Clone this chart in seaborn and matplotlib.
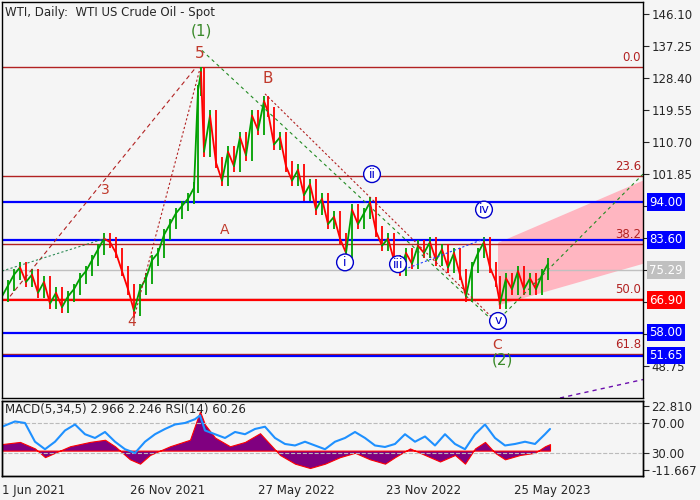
import matplotlib
matplotlib.use("Agg")
import matplotlib.pyplot as plt
import seaborn as sns
import numpy as np
import pandas as pd

sns.set_style("white")
plt.rcParams['font.family'] = ['DejaVu Sans']

# ---- data ----
price_x = [2,8,14,20,26,32,38,44,50,56,62,68,74,80,86,92,98,104,110,116,122,128,134,140,146,152,158,164,170,176,182,188,194,198,201,204,210,216,222,228,234,240,246,252,258,264,268,274,280,286,292,298,304,310,316,322,328,334,340,346,352,358,364,370,376,382,388,394,400,406,412,418,424,430,436,442,448,454,460,466,472,478,484,490,496,500,506,512,518,524,530,536,542,548]
price_c = [68,71,74,76,72,74,69,72,66,69,65,68,70,73,75,78,81,84,83,80,75,70,64,70,73,78,80,85,88,91,93,95,98,125,130,108,118,105,100,108,104,112,107,118,114,122,119,110,112,104,100,103,96,99,92,95,88,90,84,80,92,88,91,94,86,82,84,78,75,80,77,82,80,83,78,81,76,80,74,68,76,80,83,76,72,66,73,70,75,70,73,70,74,77]

rsi_x = [2,15,25,35,45,55,65,75,85,95,105,115,125,135,145,155,165,175,185,195,200,205,215,225,235,245,255,265,275,285,295,305,315,325,335,345,355,365,375,385,395,405,415,425,435,445,455,465,475,485,495,505,515,525,535,545,550]
rsi_v = [65,72,70,45,35,45,60,68,55,50,58,45,35,30,45,55,62,68,70,75,80,60,55,50,58,55,62,65,50,42,40,45,40,35,45,50,58,50,40,38,42,55,45,52,40,55,42,35,55,68,50,40,42,45,42,55,62]

macd_x = [2,20,35,45,55,70,90,105,115,130,140,150,170,190,200,205,215,230,245,260,270,280,295,310,325,340,355,370,385,395,410,425,440,455,465,475,485,495,505,520,535,545,550]
macd_v = [3,4,1,-3,-1,2,4,5,2,-4,-6,-2,2,5,18,12,6,2,4,8,3,-2,-6,-8,-6,-3,-1,-4,-6,-3,1,-2,-5,-2,-6,1,4,-1,-4,-2,-1,2,3]

date_ticks = [2,130,258,386,514]
date_labels = ["1 Jun 2021","26 Nov 2021","27 May 2022","23 Nov 2022","25 May 2023"]
price_ticks = [146.10,137.25,128.40,119.55,110.70,101.85,93.00,84.15,75.30,66.45,57.60,48.75]
hidden_ticks = {93.00,84.15,75.30,66.45,57.60}

bg = "#f5f5f5"
fig = plt.figure(figsize=(7,5), dpi=100, facecolor=bg)
ax = fig.add_axes([2/700, 102/500, 641/700, 396/500], facecolor=bg)
ax2 = fig.add_axes([2/700, 24/500, 641/700, 75/500], facecolor=bg)

ax.set_xlim(2, 643)
ax.set_ylim(39.9, 149.4)

# pink channel
ax.fill([498,643,643,498],[82.8,100,77,65.5], color="#ffb6c1", lw=0, zorder=0)

# horizontal levels
fib = [(131.5,"0.0"),(101.3,"23.6"),(82.5,"38.2"),(67.3,"50.0"),(52.1,"61.8")]
for v, t in fib:
    ax.axhline(v, color="#b22222", lw=1)
    ax.text(641, v+0.8, t, color="#b22222", ha="right", va="bottom", fontsize=8.5)
for v in [94.00, 83.60, 58.00, 51.65]:
    ax.axhline(v, color="#0000ff", lw=1.6)
ax.axhline(66.90, color="#ff0000", lw=1.6)
ax.axhline(75.29, color="#c0c0c0", lw=1)

# price bars
for i in range(1, len(price_x)):
    a, b = price_c[i-1], price_c[i]
    col = "#00a000" if b >= a else "#ff0000"
    ax.plot([price_x[i-1], price_x[i]], [a, b], color=col, lw=1.3)
    ax.vlines(price_x[i], min(a, b)-1.5, max(a, b)+1.5, color=col, lw=1.3)

# wave lines
ax.plot([10,195],[68,131], color="#b22222", ls=(0,(4,3)), lw=0.8)
ax.plot([134,200],[62,131], color="#b22222", ls=(0,(2,2)), lw=0.8)
ax.plot([2,105],[75,84], color="#2e8b57", ls=(0,(2,2)), lw=0.8)
ax.plot([202,490],[136,62], color="#228b22", ls=(0,(3,3)), lw=0.8)
ax.plot([265,500],[124,60], color="#b22222", ls=(0,(2,2)), lw=0.8)
ax.plot([500,643],[62,101.8], color="#228b22", ls=(0,(3,3)), lw=0.8)
ax.plot([400,485],[75,84], color="#1e40ff", ls=(0,(2,2)), lw=0.8)
ax.plot([560,643],[39.9,45], color="#6a0dad", ls=(0,(3,3)), lw=1)

# wave labels
lab = [(201,141.5,"(1)","#3a8a2a",11),(200,135.1,"5","#c0392b",11),(268,128.2,"B","#c0392b",11),
       (225,86.4,"A","#c0392b",10),(105,97.5,"3","#c0392b",10),(132,61,"4","#c0392b",10),
       (497,54.5,"C","#c0392b",10),(502,50.5,"(2)","#3a8a2a",11)]
for x, y, t, c, s in lab:
    ax.text(x, y, t, color=c, ha="center", va="center", fontsize=s)
circ = [(345,77.4,"i"),(372,101.8,"ii"),(398,76.9,"iii"),(484,92,"iv"),(498,61.2,"v")]
for x, y, t in circ:
    ax.text(x, y, t, color="#0000cc", ha="center", va="center", fontsize=9,
            bbox=dict(boxstyle="circle,pad=0.15", fc="white", ec="#0000cc", lw=1))

ax.text(5, 146.5, "WTI, Daily:  WTI US Crude Oil - Spot", fontsize=8.5, va="center")

ax.yaxis.tick_right()
ax.set_yticks(price_ticks)
ax.set_yticklabels(["" if v in hidden_ticks else f"{v:.2f}" for v in price_ticks], fontsize=8.5)
ax.set_xticks([])
ax.tick_params(axis="y", length=4, pad=2)
for s in ax.spines.values():
    s.set_color("black"); s.set_linewidth(1)

# boxed price labels
boxes = [(94.00,"#0000ff","white"),(83.60,"#0000ff","white"),(75.29,"#c0c0c0","white"),
         (66.90,"#ff0000","white"),(58.00,"#0000ff","white"),(51.65,"#0000ff","white")]
for v, fc, tc in boxes:
    ax.text(649, v, f"{v:.2f}", color=tc, fontsize=8.5, va="center", ha="left",
            bbox=dict(boxstyle="square,pad=0.2", fc=fc, ec="none"), clip_on=False)

# indicator panel
ax2.set_xlim(2, 643)
ax2.set_ylim(-0.7, 99.3)
axm = ax2.twinx()
axm.set_ylim(-11.667, 22.81)
axm.fill_between(macd_x, 0, macd_v, color="#800080", lw=0.8, edgecolor="#ff0000")
axm.set_yticks([])
axm.set_zorder(0)
ax2.set_zorder(1); ax2.patch.set_visible(False)
ax2.axhline(70, color="#bbbbbb", ls="--", lw=0.8)
ax2.axhline(30, color="#bbbbbb", ls="--", lw=0.8)
sns.lineplot(x=rsi_x, y=rsi_v, ax=ax2, color="#1e90ff", lw=1.5)
ax2.yaxis.tick_right()
ax2.set_yticks([92.5, 70, 30, 7.5])
ax2.set_yticklabels(["22.810","70.00","30.00","-11.667"], fontsize=8.5)
ax2.tick_params(axis="y", length=4, pad=2)
ax2.set_xticks(date_ticks)
ax2.set_xticklabels(date_labels, fontsize=8.5, ha="left")
ax2.tick_params(axis="x", length=4, pad=2)
ax2.text(5, 88, "MACD(5,34,5) 2.966 2.246 RSI(14) 60.26", fontsize=8.5, va="center")
for s in list(ax2.spines.values()) + list(axm.spines.values()):
    s.set_color("black"); s.set_linewidth(1)

fig.savefig("out.png", dpi=100, facecolor=bg)
